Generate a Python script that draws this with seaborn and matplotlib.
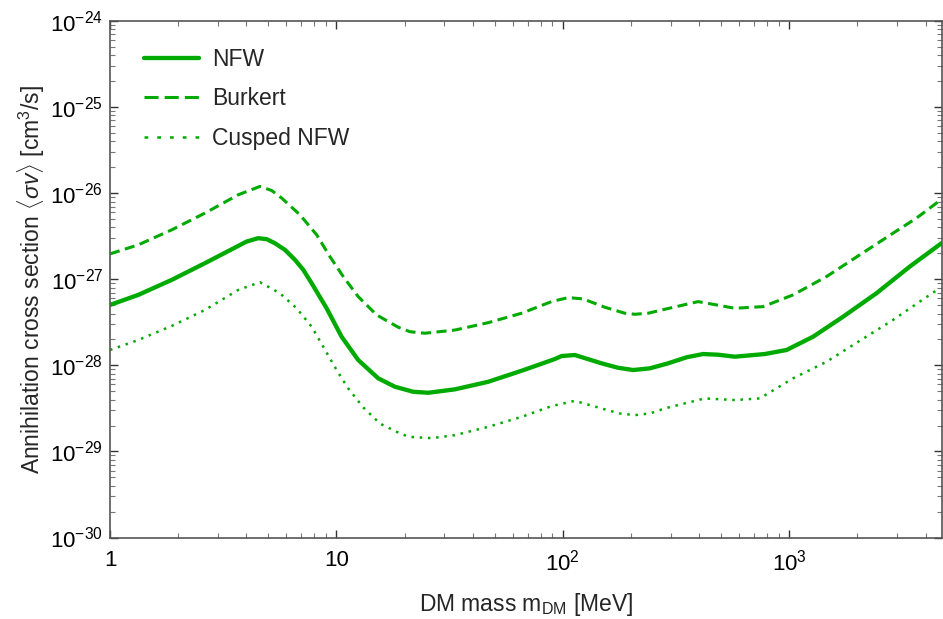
import numpy as np
import pandas as pd
import matplotlib
matplotlib.use("Agg")
import matplotlib.pyplot as plt
import seaborn as sns

# ---------------- data ----------------
nfw_mass = [1.0, 1.333, 1.873, 2.627, 3.685, 4.01, 4.515, 4.92, 5.35, 5.93, 6.56,
            7.14, 7.77, 9.05, 10.54, 12.48, 15.30, 18.13, 21.83, 25.43, 33.37,
            46.80, 65.73, 92.2, 98.7, 113.0, 148.2, 175.4, 204.4, 242.2, 291.6,
            351.7, 416.3, 485.0, 574.7, 779.6, 971.9, 1274, 1728, 2427, 3404, 4699]
nfw_sv = [5.03e-28, 6.58e-28, 9.83e-28, 1.538e-27, 2.44e-27, 2.74e-27, 3.00e-27,
          2.92e-27, 2.62e-27, 2.19e-27, 1.68e-27, 1.285e-27, 9.0e-28, 4.60e-28,
          2.15e-28, 1.153e-28, 7.06e-29, 5.64e-29, 4.93e-29, 4.80e-29, 5.26e-29,
          6.44e-29, 8.65e-29, 1.183e-28, 1.283e-28, 1.318e-28, 1.055e-28,
          9.37e-29, 8.82e-29, 9.23e-29, 1.055e-28, 1.24e-28, 1.353e-28,
          1.328e-28, 1.26e-28, 1.353e-28, 1.507e-28, 2.15e-28, 3.67e-28,
          6.88e-28, 1.403e-27, 2.62e-27]

burkert_mass = [1.0, 1.333, 1.873, 2.627, 3.685, 4.595, 5.175, 5.73, 6.90, 8.18,
                9.36, 10.72, 12.48, 15.05, 18.75, 21.11, 24.59, 33.37, 46.80,
                65.73, 89.15, 105.5, 122.9, 153.2, 187.8, 207.9, 238.1, 282.0,
                395.8, 574.7, 766.3, 1039, 1460, 2048, 2873, 3644, 4466, 4699]
burkert_sv = [1.972e-27, 2.51e-27, 3.75e-27, 5.87e-27, 9.58e-27, 1.197e-26,
              1.074e-26, 8.77e-27, 5.61e-27, 3.28e-27, 1.834e-27, 1.074e-27,
              6.28e-28, 3.85e-28, 2.77e-28, 2.46e-28, 2.36e-28, 2.57e-28,
              3.13e-28, 4.03e-28, 5.50e-28, 6.12e-28, 5.91e-28, 4.73e-28,
              4.03e-28, 3.92e-28, 4.03e-28, 4.48e-28, 5.50e-28, 4.60e-28,
              4.81e-28, 6.58e-28, 1.074e-27, 1.92e-27, 3.43e-27, 5.13e-27,
              7.67e-27, 8.49e-27]

cusped_mass = [1.0, 1.333, 1.873, 2.627, 3.685, 4.595, 5.63, 6.675, 7.77, 8.745,
               10.02, 11.27, 13.13, 15.56, 19.07, 20.9, 26.33, 33.37, 46.8, 65.73,
               89.15, 113.0, 153.2, 178.5, 207.9, 242.2, 282.0, 423.6, 574.7,
               741.2, 1039, 1460, 2048, 2873, 3769, 4619]
cusped_sv = [1.507e-28, 1.969e-28, 2.87e-28, 4.40e-28, 7.52e-28, 9.24e-28,
             6.88e-28, 4.60e-28, 2.81e-28, 1.645e-28, 8.82e-29, 5.40e-29,
             3.25e-29, 2.11e-29, 1.618e-29, 1.476e-29, 1.426e-29, 1.545e-29,
             1.931e-29, 2.52e-29, 3.36e-29, 3.87e-29, 3.08e-29, 2.76e-29,
             2.64e-29, 2.76e-29, 3.16e-29, 4.13e-29, 3.95e-29, 4.13e-29,
             7.06e-29, 1.10e-28, 1.93e-28, 3.37e-28, 5.50e-28, 7.87e-28]

series_names = ["NFW", "Burkert", "Cusped NFW"]

x_ticks = [1, 10, 100, 1000]
x_tick_labels = ["1", "10", "$10^{2}$", "$10^{3}$"]
y_ticks = [1e-30, 1e-29, 1e-28, 1e-27, 1e-26, 1e-25, 1e-24]
y_tick_labels = ["$10^{-30}$", "$10^{-29}$", "$10^{-28}$", "$10^{-27}$",
                 "$10^{-26}$", "$10^{-25}$", "$10^{-24}$"]

x_label = "DM mass m$_{\\mathrm{DM}}$ [MeV]"
y_label = "Annihilation cross section $\\langle\\sigma v\\rangle$ [cm$^{3}$/s]"

# ---------------- style ----------------
sns.set_theme(style="ticks")
plt.rcParams["font.family"] = ["Liberation Sans", "DejaVu Sans"]
plt.rcParams["mathtext.fontset"] = "custom"
plt.rcParams["mathtext.rm"] = "Liberation Sans"
plt.rcParams["mathtext.it"] = "Liberation Sans:italic"
plt.rcParams["mathtext.bf"] = "Liberation Sans:bold"
plt.rcParams["mathtext.sf"] = "Liberation Sans"

green = "#00aa00"
frame_col = "#555555"

fig = plt.figure(figsize=(9.43, 6.19), dpi=100)
ax = fig.add_axes([110 / 943, 1 - 537.5 / 619, (942.3 - 110) / 943, (537.5 - 21) / 619])

frames = []
for name, m, s in [("NFW", nfw_mass, nfw_sv),
                   ("Burkert", burkert_mass, burkert_sv),
                   ("Cusped NFW", cusped_mass, cusped_sv)]:
    frames.append(pd.DataFrame({"mass": m, "sv": s, "profile": name}))
df = pd.concat(frames, ignore_index=True)

styles = {
    "NFW": dict(lw=3.1, dashes=None, leg_dashes=None),
    "Burkert": dict(lw=2.2, dashes=(3.3, 1.8), leg_dashes=(4.6, 2.0)),
    "Cusped NFW": dict(lw=1.8, dashes=(1.0, 2.3), leg_dashes=(1.5, 3.6)),
}

for name in series_names:
    sub = df[df["profile"] == name]
    st = styles[name]
    sns.lineplot(data=sub, x="mass", y="sv", ax=ax, color=green,
                 lw=st["lw"], estimator=None, sort=True, label=name)
    ln = ax.get_lines()[-1]
    if st["dashes"] is not None:
        ln.set_dashes(st["dashes"])
        ln.set_dash_capstyle("butt")
    ln.set_solid_capstyle("round")
    ln.set_solid_joinstyle("round")

ax.set_xscale("log")
ax.set_yscale("log")
ax.set_xlim(1, 4740)
ax.set_ylim(1e-30, 1e-24)

ax.set_xticks(x_ticks)
ax.set_xticklabels(x_tick_labels)
ax.set_yticks(y_ticks)
ax.set_yticklabels(y_tick_labels)
ax.xaxis.set_minor_locator(matplotlib.ticker.LogLocator(base=10, subs=np.arange(2, 10)))
ax.yaxis.set_minor_locator(matplotlib.ticker.LogLocator(base=10, subs=np.arange(2, 10), numticks=20))
ax.xaxis.set_minor_formatter(matplotlib.ticker.NullFormatter())
ax.yaxis.set_minor_formatter(matplotlib.ticker.NullFormatter())

ax.tick_params(which="both", direction="in", top=True, right=True,
               colors="#333333", labelcolor="black")
ax.tick_params(which="major", length=6, width=1.0, labelsize=16)
ax.tick_params(axis="x", which="major", pad=9)
ax.tick_params(axis="y", which="major", pad=5)
ax.tick_params(which="minor", length=3.5, width=0.8, color="#777777")

for sp in ax.spines.values():
    sp.set_color(frame_col)
    sp.set_linewidth(1.2)

ax.set_xlabel(x_label, fontsize=16.5, labelpad=11)
ax.set_ylabel(y_label, fontsize=16.5, labelpad=2)

leg = ax.legend(loc="upper left", bbox_to_anchor=(0.030, 0.966), frameon=False,
                fontsize=16.5, handlelength=2.4, handletextpad=0.55,
                labelspacing=0.73, borderaxespad=0)
for h, name in zip(leg.get_lines(), series_names):
    h.set_color(green)
    d = styles[name]["leg_dashes"]
    if d is not None:
        h.set_dashes(d)
        h.set_dash_capstyle("butt")

fig.savefig("out.png", dpi=100)
